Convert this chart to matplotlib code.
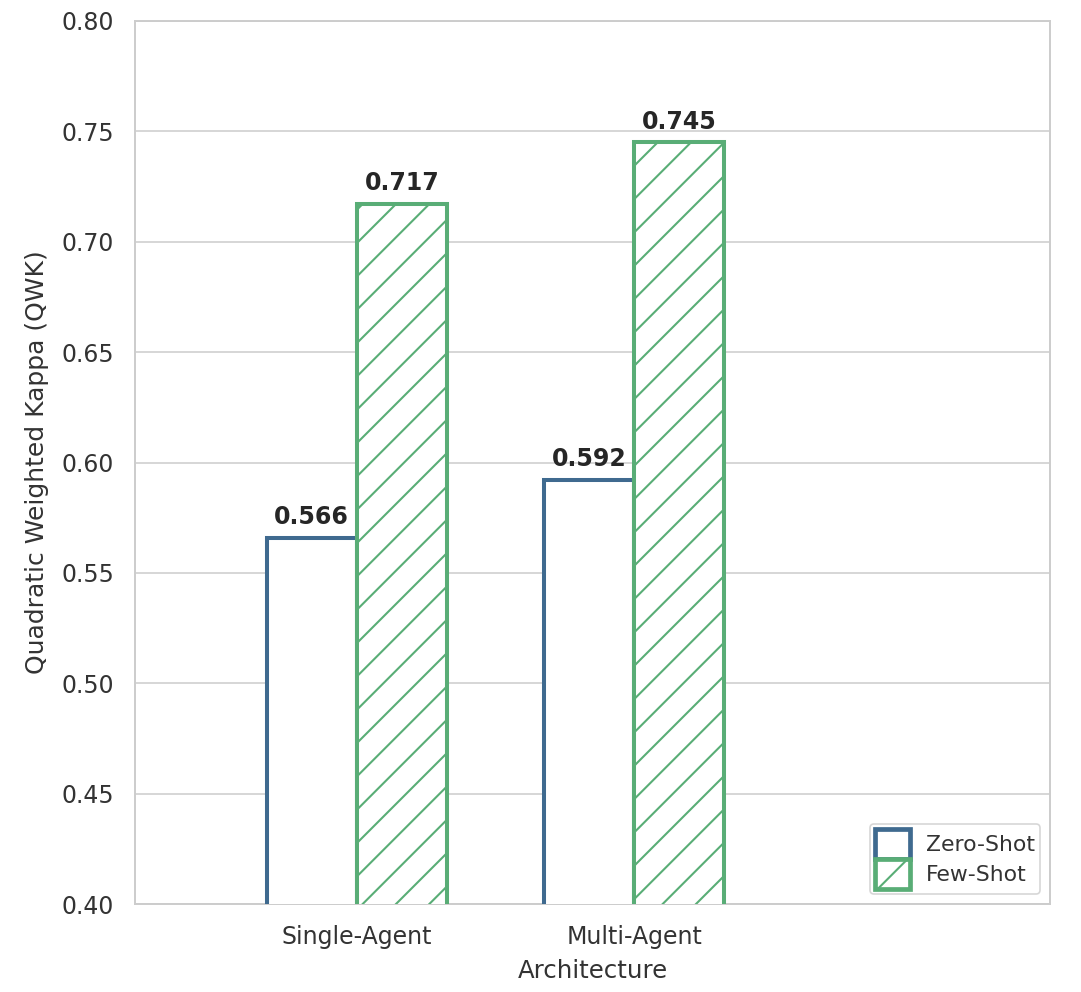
import matplotlib
matplotlib.use("Agg")
import matplotlib.pyplot as plt
from matplotlib.patches import Patch
import numpy as np

# Data
architectures = ["Single-Agent", "Multi-Agent"]
zero_shot = [0.566, 0.592]
few_shot = [0.717, 0.745]
series_names = ["Zero-Shot", "Few-Shot"]
y_ticks = [0.40, 0.45, 0.50, 0.55, 0.60, 0.65, 0.70, 0.75, 0.80]

zero_color = "#3f6a8f"
few_color = "#59ad76"
text_color = "#262626"
light = "#cccccc"

plt.rcParams["font.family"] = ["DejaVu Sans"]
plt.rcParams["hatch.linewidth"] = 0.75

fig = plt.figure(figsize=(10.81 / 2, 9.92 / 2), dpi=200)
ax = fig.add_axes([135 / 1081, 88 / 992, (1050 - 135) / 1081, (904 - 21) / 992])

x = np.arange(len(architectures))
w = 0.325
lw = 1.45

bars0 = ax.bar(x - w / 2, zero_shot, width=w, bottom=0, facecolor="white",
               edgecolor=zero_color, linewidth=lw, zorder=3, label=series_names[0])
bars1 = ax.bar(x + w / 2, few_shot, width=w, bottom=0, facecolor="white",
               edgecolor=few_color, linewidth=lw, hatch="//", zorder=3,
               label=series_names[1])

for bars, vals in ((bars0, zero_shot), (bars1, few_shot)):
    for b, v in zip(bars, vals):
        ax.annotate(f"{v:.3f}", (b.get_x() + b.get_width() / 2, v),
                    xytext=(0, 3.2), textcoords="offset points",
                    ha="center", va="bottom", fontsize=8.5,
                    fontweight="bold", color=text_color, zorder=4)

ax.set_ylim(0.40, 0.80)
ax.set_xlim(-0.8, 2.5)
ax.set_yticks(y_ticks)
ax.set_yticklabels([f"{t:.2f}" for t in y_ticks])
ax.set_xticks(x)
ax.set_xticklabels(architectures)

ax.tick_params(axis="both", length=0, labelsize=8.5, labelcolor="#333333", pad=7.5)
ax.set_xlabel("Architecture", fontsize=8.8, color="#333333", labelpad=3.5)
ax.set_ylabel("Quadratic Weighted Kappa (QWK)", fontsize=9.0, color="#333333", labelpad=4.5)

ax.grid(axis="y", color=light, linewidth=0.55, zorder=0)
ax.grid(axis="x", visible=False)
ax.set_axisbelow(True)
for s in ax.spines.values():
    s.set_color(light)
    s.set_linewidth(0.7)

handles = [
    Patch(facecolor="white", edgecolor=zero_color, linewidth=1.7, label=series_names[0]),
    Patch(facecolor="white", edgecolor=few_color, linewidth=1.7, hatch="//", label=series_names[1]),
]
leg = ax.legend(handles=handles, loc="lower right", fontsize=7.9,
                handlelength=1.6, handleheight=1.7, labelspacing=0.0,
                handletextpad=0.7, borderpad=0.25, frameon=True,
                borderaxespad=0.45)
leg.get_frame().set_edgecolor(light)
leg.get_frame().set_linewidth(0.6)
for t in leg.get_texts():
    t.set_color("#333333")

fig.savefig("out.png", dpi=200, facecolor="white")
